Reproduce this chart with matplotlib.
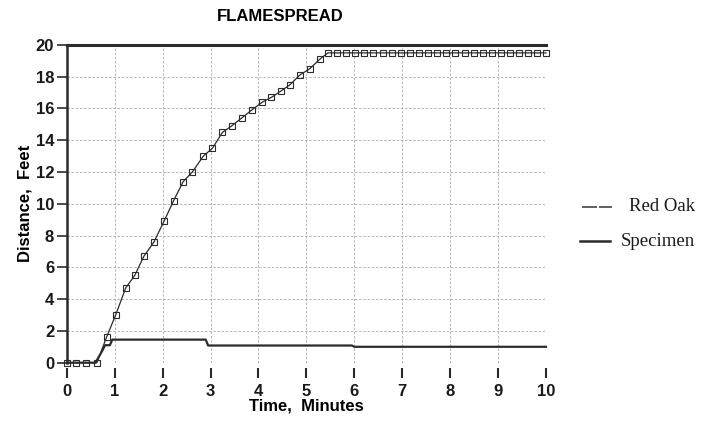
import matplotlib.pyplot as plt
from matplotlib.lines import Line2D

plt.rcParams['font.family'] = ['Liberation Sans', 'DejaVu Sans']

# Red Oak reference curve (squares), minutes vs feet
oak_time = [0.0, 0.2, 0.4, 0.63, 0.83, 1.02, 1.23, 1.42, 1.61, 1.82, 2.03, 2.23,
            2.43, 2.62, 2.85, 3.04, 3.25, 3.44, 3.65, 3.86, 4.08, 4.27, 4.47,
            4.66, 4.86, 5.07, 5.28, 5.45, 5.64, 5.83, 6.02, 6.21, 6.4, 6.59,
            6.78, 6.97, 7.16, 7.35, 7.54, 7.73, 7.92, 8.11, 8.3, 8.49, 8.68,
            8.87, 9.06, 9.25, 9.44, 9.63, 9.82, 10.0]
oak_dist = [0.0, 0.0, 0.0, 0.0, 1.6, 3.0, 4.7, 5.5, 6.7, 7.6, 8.9, 10.2,
            11.4, 12.0, 13.0, 13.5, 14.5, 14.9, 15.4, 15.9, 16.4, 16.7, 17.1,
            17.5, 18.1, 18.5, 19.1, 19.5, 19.5, 19.5, 19.5, 19.5, 19.5, 19.5,
            19.5, 19.5, 19.5, 19.5, 19.5, 19.5, 19.5, 19.5, 19.5, 19.5, 19.5,
            19.5, 19.5, 19.5, 19.5, 19.5, 19.5, 19.5]

# Specimen curve
spec_time = [0.0, 0.6, 0.75, 0.8, 0.9, 0.95, 2.9, 2.95, 5.95, 6.0, 10.0]
spec_dist = [0.0, 0.0, 0.8, 1.1, 1.1, 1.45, 1.45, 1.08, 1.08, 1.0, 1.0]

x_ticks = list(range(0, 11))
y_ticks = list(range(0, 21, 2))
legend_labels = ['Red Oak', 'Specimen']

fig = plt.figure(figsize=(7.1, 4.45), dpi=100)
ax = fig.add_axes([0.094, 0.185, 0.675, 0.714])

ink = '#2b2b2b'
ax.plot(oak_time, oak_dist, color=ink, lw=0.9, marker='s', markersize=5,
        markerfacecolor='none', markeredgecolor=ink, markeredgewidth=0.8,
        clip_on=False, zorder=3)
ax.plot(spec_time, spec_dist, color=ink, lw=1.6, clip_on=False, zorder=3)

ax.set_xlim(0, 10)
ax.set_ylim(0, 20)
ax.set_xticks(x_ticks)
ax.set_yticks(y_ticks)
ax.grid(True, color='#ababab', linestyle=(0, (3, 2)), linewidth=0.6)

ax.spines['right'].set_visible(False)
ax.spines['bottom'].set_visible(False)
ax.spines['bottom'].set_position(('outward', 4))
ax.spines['left'].set_linewidth(1.8)
ax.spines['left'].set_color(ink)
ax.spines['top'].set_linewidth(2.2)
ax.spines['top'].set_color(ink)

ax.tick_params(axis='x', direction='out', length=7, width=1.5, color=ink,
               pad=4, labelsize=12)
ax.tick_params(axis='y', direction='out', length=7, width=1.2, color=ink,
               pad=2, labelsize=12)
for lab in ax.get_xticklabels() + ax.get_yticklabels():
    lab.set_fontweight('bold')
    lab.set_color('#1a1a1a')

ax.set_xlabel('Time,  Minutes', fontsize=12, fontweight='bold', labelpad=0)
ax.set_ylabel('Distance,  Feet', fontsize=12, fontweight='bold', labelpad=2)
fig.text(0.395, 0.962, 'FLAMESPREAD', fontsize=12, fontweight='bold',
         ha='center', va='center')

# legend drawn by hand, text right-aligned like the scan
fig.add_artist(Line2D([0.82, 0.862], [0.535, 0.535], color='#444444', lw=1.2,
                      linestyle=(0, (9, 1.2))))
fig.add_artist(Line2D([0.817, 0.859], [0.458, 0.458], color=ink, lw=1.8))
fig.text(0.979, 0.535, legend_labels[0], ha='right', va='center',
         family='Liberation Serif', fontsize=13.5, color='#1a1a1a')
fig.text(0.979, 0.458, legend_labels[1], ha='right', va='center',
         family='Liberation Serif', fontsize=13.5, color='#1a1a1a')

plt.savefig('out.png', dpi=100)
